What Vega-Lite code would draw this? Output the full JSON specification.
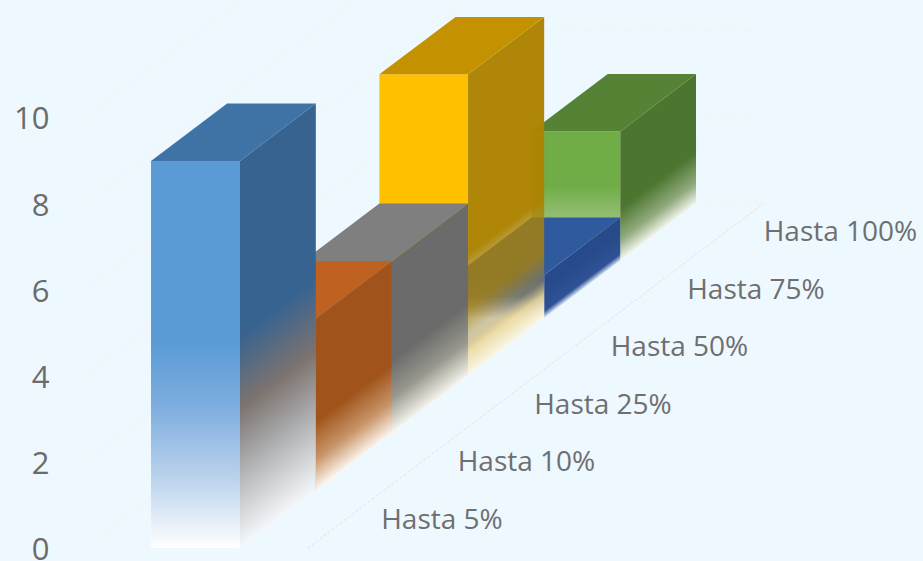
{
"$schema":"https://vega.github.io/schema/vega-lite/v6.json",
"width":923,"height":561,"padding":0,"autosize":{"type":"none"},
"background":"#EEF8FF",
"config":{"view":{"stroke":null}},
"datasets":{
"caras":[
{"serie":"Hasta 5%","cara":"frente","x":0.876,"x2":2.039,"y":0,"y2":9},
{"serie":"Hasta 5%","cara":"lado","x":2.039,"y":0,"y2":9},
{"serie":"Hasta 5%","cara":"lado","x":3.03,"y":1.337,"y2":10.337},
{"serie":"Hasta 5%","cara":"tapa","x":0.876,"x2":2.039,"y":9},
{"serie":"Hasta 5%","cara":"tapa","x":1.871,"x2":3.03,"y":10.337},
{"serie":"Hasta 10%","cara":"frente","x":1.871,"x2":3.03,"y":1.337,"y2":5.337},
{"serie":"Hasta 10%","cara":"lado","x":3.03,"y":1.337,"y2":5.337},
{"serie":"Hasta 10%","cara":"lado","x":4.025,"y":2.674,"y2":6.674},
{"serie":"Hasta 10%","cara":"tapa","x":1.871,"x2":3.03,"y":5.337},
{"serie":"Hasta 10%","cara":"tapa","x":2.866,"x2":4.025,"y":6.674},
{"serie":"Hasta 25%","cara":"frente","x":2.866,"x2":4.025,"y":2.674,"y2":6.674},
{"serie":"Hasta 25%","cara":"lado","x":4.025,"y":2.674,"y2":6.674},
{"serie":"Hasta 25%","cara":"lado","x":5.02,"y":4.011,"y2":8.011},
{"serie":"Hasta 25%","cara":"tapa","x":2.866,"x2":4.025,"y":6.674},
{"serie":"Hasta 25%","cara":"tapa","x":3.861,"x2":5.02,"y":8.011},
{"serie":"Hasta 50%","cara":"frente","x":3.861,"x2":5.02,"y":4.011,"y2":11.02},
{"serie":"Hasta 50%","cara":"lado","x":5.02,"y":4.011,"y2":11.02},
{"serie":"Hasta 50%","cara":"lado","x":6.015,"y":5.348,"y2":12.348},
{"serie":"Hasta 50%","cara":"tapa","x":3.861,"x2":5.02,"y":11.02},
{"serie":"Hasta 50%","cara":"tapa","x":4.856,"x2":6.015,"y":12.348},
{"serie":"Hasta 75%","cara":"frente","x":4.856,"x2":6.015,"y":5.348,"y2":6.348},
{"serie":"Hasta 75%","cara":"lado","x":6.015,"y":5.348,"y2":6.348},
{"serie":"Hasta 75%","cara":"lado","x":7.01,"y":6.685,"y2":7.685},
{"serie":"Hasta 75%","cara":"tapa","x":4.856,"x2":6.015,"y":6.348},
{"serie":"Hasta 75%","cara":"tapa","x":5.851,"x2":7.01,"y":7.685},
{"serie":"Hasta 100%","cara":"frente","x":5.851,"x2":7.01,"y":6.685,"y2":9.685},
{"serie":"Hasta 100%","cara":"lado","x":7.01,"y":6.685,"y2":9.685},
{"serie":"Hasta 100%","cara":"lado","x":8.0,"y":8.022,"y2":11.022},
{"serie":"Hasta 100%","cara":"tapa","x":5.851,"x2":7.01,"y":9.685},
{"serie":"Hasta 100%","cara":"tapa","x":6.846,"x2":8.0,"y":11.022}
],
"rejilla":[
{"linea":"0","x":0,"y":0},{"linea":"0","x":6,"y":8.022},{"linea":"0","x":8.889,"y":8.022},
{"linea":"2","x":0,"y":2},{"linea":"2","x":6,"y":10.022},{"linea":"2","x":8.889,"y":10.022},
{"linea":"4","x":0,"y":4},{"linea":"4","x":6,"y":12.022},{"linea":"4","x":8.889,"y":12.022},
{"linea":"6","x":0,"y":6},{"linea":"6","x":6,"y":14.022},
{"linea":"8","x":0,"y":8},{"linea":"8","x":6,"y":16.022},
{"linea":"10","x":0,"y":10},{"linea":"10","x":6,"y":18.022}
],
"suelo":[{"x":2.928,"y":0},{"x":8.889,"y":8.022}],
"etiquetas":[
{"serie":"Hasta 5%","x":3.885,"y":0.634},
{"serie":"Hasta 10%","x":4.885,"y":1.971},
{"serie":"Hasta 25%","x":5.885,"y":3.308},
{"serie":"Hasta 50%","x":6.885,"y":4.645},
{"serie":"Hasta 75%","x":7.885,"y":5.982},
{"serie":"Hasta 100%","x":8.885,"y":7.319}
]
},
"encoding":{
"x":{"field":"x","type":"quantitative","scale":{"domain":[-1.098,10.967],"nice":false,"zero":false},"axis":null},
"y":{"field":"y","type":"quantitative","scale":{"domain":[-0.302,12.744],"nice":false,"zero":false},
"axis":{"values":[0,2,4,6,8,10],"title":null,"domain":false,"ticks":false,"grid":false,"offset":-49,"labelPadding":0,"labelFontSize":31,"labelOffset":2,"labelFont":"Open Sans","labelColor":"#6b6b6b"}}
},
"layer":[
{"data":{"name":"rejilla"},"mark":{"type":"line","stroke":"#F5F2EB","strokeWidth":1,"strokeDash":[3,2],"clip":true},"encoding":{"detail":{"field":"linea"}}},
{"data":{"name":"suelo"},"mark":{"type":"line","stroke":"#E6E2DA","strokeWidth":1,"strokeDash":[3,2]}},

{"data":{"name":"caras"},"transform":[{"filter":"datum.serie=='Hasta 100%'&&datum.cara=='frente'"}],"mark":{"type":"rect","fill":{"gradient":"linear","x1":0,"y1":0,"x2":0,"y2":1,"stops":[{"offset":0.42,"color":"#70AD47"},{"offset":0.66,"color":"#93BE72"},{"offset":1,"color":"#F0F6EA"}]}},"encoding":{"x2":{"field":"x2"},"y2":{"field":"y2"}}},
{"data":{"name":"caras"},"transform":[{"filter":"datum.serie=='Hasta 100%'&&datum.cara=='lado'"}],"mark":{"type":"area","fill":{"gradient":"linear","x1":0,"y1":0.306,"x2":0.194,"y2":0.9406,"stops":[{"offset":0.6,"color":"#4C7530"},{"offset":0.84,"color":"#90AA7C"},{"offset":1,"color":"#F2F5EC"}]}},"encoding":{"y2":{"field":"y2"}}},
{"data":{"name":"caras"},"transform":[{"filter":"datum.serie=='Hasta 100%'&&datum.cara=='tapa'"}],"mark":{"type":"area","orient":"horizontal","fill":"#558335"},"encoding":{"x2":{"field":"x2"}}},

{"data":{"name":"caras"},"transform":[{"filter":"datum.serie=='Hasta 75%'&&datum.cara=='frente'"}],"mark":{"type":"rect","fill":{"gradient":"linear","x1":0,"y1":0,"x2":0,"y2":1,"stops":[{"offset":0,"color":"#2F5597"},{"offset":0.5,"color":"#4A6DA8"},{"offset":1,"color":"#EEF4FA"}]}},"encoding":{"x2":{"field":"x2"},"y2":{"field":"y2"}}},
{"data":{"name":"caras"},"transform":[{"filter":"datum.serie=='Hasta 75%'&&datum.cara=='lado'"}],"mark":{"type":"area","fill":{"gradient":"linear","x1":0,"y1":0.57,"x2":0.185,"y2":0.8945,"stops":[{"offset":0.3,"color":"#274A8A"},{"offset":0.84,"color":"#2F5295"},{"offset":1,"color":"#DCE8F6"}]}},"encoding":{"y2":{"field":"y2"}}},
{"data":{"name":"caras"},"transform":[{"filter":"datum.serie=='Hasta 75%'&&datum.cara=='tapa'"}],"mark":{"type":"area","orient":"horizontal","fill":"#2F5A9E"},"encoding":{"x2":{"field":"x2"}}},

{"data":{"name":"caras"},"transform":[{"filter":"datum.serie=='Hasta 50%'&&datum.cara=='frente'"}],"mark":{"type":"rect","fill":"#FFC000"},"encoding":{"x2":{"field":"x2"},"y2":{"field":"y2"}}},
{"data":{"name":"caras"},"transform":[{"filter":"datum.serie=='Hasta 50%'&&datum.cara=='lado'"}],"mark":{"type":"area","fill":{"gradient":"linear","x1":0,"y1":0.159,"x2":0.13,"y2":0.979,"stops":[{"offset":0.6,"color":"rgba(173,131,0,0.97)"},{"offset":0.63,"color":"rgba(170,130,8,0.82)"},{"offset":0.78,"color":"rgba(170,130,10,0.8)"},{"offset":0.87,"color":"rgba(170,140,60,0.45)"},{"offset":0.92,"color":"rgba(235,215,150,0.85)"},{"offset":1,"color":"rgba(250,248,235,1)"}]}},"encoding":{"y2":{"field":"y2"}}},
{"data":{"name":"caras"},"transform":[{"filter":"datum.serie=='Hasta 50%'&&datum.cara=='tapa'"}],"mark":{"type":"area","orient":"horizontal","fill":"#C49200"},"encoding":{"x2":{"field":"x2"}}},

{"data":{"name":"caras"},"transform":[{"filter":"datum.serie=='Hasta 25%'&&datum.cara=='frente'"}],"mark":{"type":"rect","fill":"#A5A5A5"},"encoding":{"x2":{"field":"x2"},"y2":{"field":"y2"}}},
{"data":{"name":"caras"},"transform":[{"filter":"datum.serie=='Hasta 25%'&&datum.cara=='lado'"}],"mark":{"type":"area","fill":{"gradient":"linear","x1":0,"y1":0.249,"x2":0.176,"y2":0.956,"stops":[{"offset":0.58,"color":"#6B6B6B"},{"offset":0.8,"color":"#98988E"},{"offset":1,"color":"#F6F6EE"}]}},"encoding":{"y2":{"field":"y2"}}},
{"data":{"name":"caras"},"transform":[{"filter":"datum.serie=='Hasta 25%'&&datum.cara=='tapa'"}],"mark":{"type":"area","orient":"horizontal","fill":"#7F7F7F"},"encoding":{"x2":{"field":"x2"}}},

{"data":{"name":"caras"},"transform":[{"filter":"datum.serie=='Hasta 10%'&&datum.cara=='frente'"}],"mark":{"type":"rect","fill":"#C55A11"},"encoding":{"x2":{"field":"x2"},"y2":{"field":"y2"}}},
{"data":{"name":"caras"},"transform":[{"filter":"datum.serie=='Hasta 10%'&&datum.cara=='lado'"}],"mark":{"type":"area","fill":{"gradient":"linear","x1":0,"y1":0.249,"x2":0.176,"y2":0.956,"stops":[{"offset":0.6,"color":"#A0541B"},{"offset":0.82,"color":"#C89468"},{"offset":1,"color":"#FDF6EE"}]}},"encoding":{"y2":{"field":"y2"}}},
{"data":{"name":"caras"},"transform":[{"filter":"datum.serie=='Hasta 10%'&&datum.cara=='tapa'"}],"mark":{"type":"area","orient":"horizontal","fill":"#BF6120"},"encoding":{"x2":{"field":"x2"}}},

{"data":{"name":"caras"},"transform":[{"filter":"datum.serie=='Hasta 5%'&&datum.cara=='frente'"}],"mark":{"type":"rect","fill":{"gradient":"linear","x1":0,"y1":0,"x2":0,"y2":1,"stops":[{"offset":0.47,"color":"#5B9BD5"},{"offset":0.64,"color":"#80AEE0"},{"offset":0.82,"color":"#BBD3EC"},{"offset":1,"color":"#FFFFFF"}]}},"encoding":{"x2":{"field":"x2"},"y2":{"field":"y2"}}},
{"data":{"name":"caras"},"transform":[{"filter":"datum.serie=='Hasta 5%'&&datum.cara=='lado'"}],"mark":{"type":"area","fill":{"gradient":"linear","x1":0,"y1":0.128,"x2":0.11,"y2":0.986,"stops":[{"offset":0.45,"color":"#376391"},{"offset":0.64,"color":"#7C736F"},{"offset":0.8,"color":"#AEB0B2"},{"offset":1,"color":"#F5F8FB"}]}},"encoding":{"y2":{"field":"y2"}}},
{"data":{"name":"caras"},"transform":[{"filter":"datum.serie=='Hasta 5%'&&datum.cara=='tapa'"}],"mark":{"type":"area","orient":"horizontal","fill":"#3F72A5"},"encoding":{"x2":{"field":"x2"}}},

{"data":{"name":"etiquetas"},"mark":{"type":"text","align":"left","baseline":"middle","font":"Open Sans","fontSize":28,"color":"#6f6f6f"},"encoding":{"text":{"field":"serie"}}}
]
}
